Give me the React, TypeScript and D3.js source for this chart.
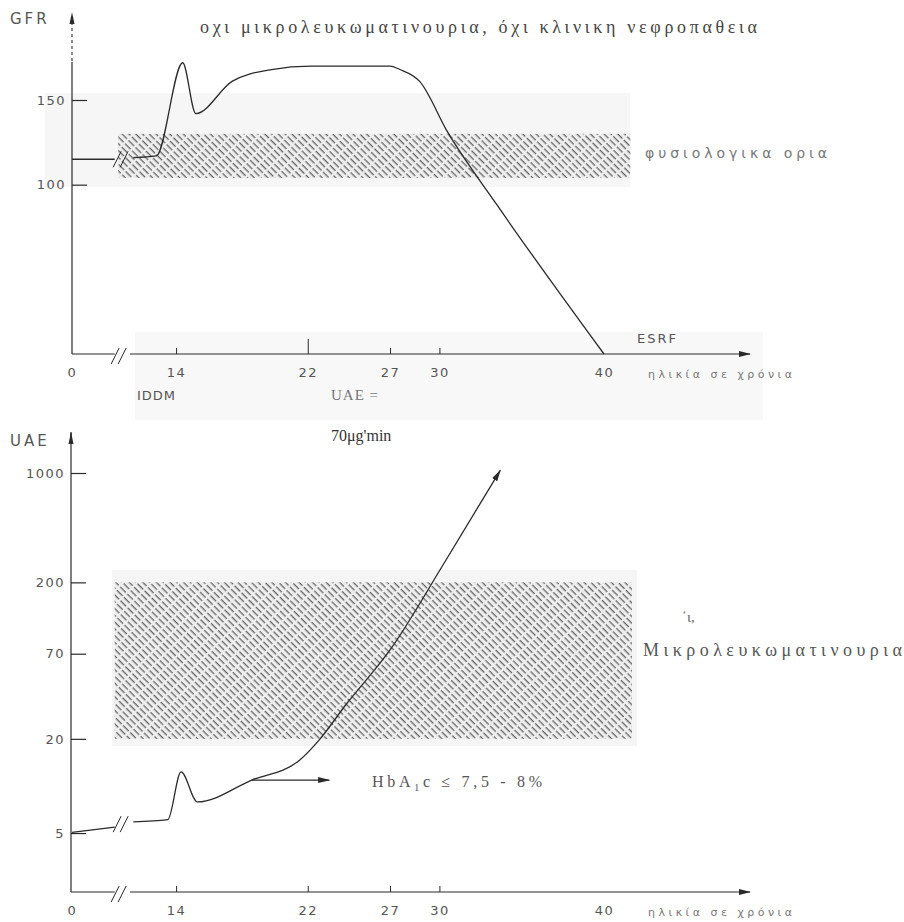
import React, { useEffect, useRef } from 'react';
import * as d3 from 'd3';

// top panel: GFR (ml/min) by age, the part before the axis break and after it
const gfrAgePre = [0, 2.6];
const gfrPre = [115, 115];
const gfrAge = [11.4, 12.8, 14.4, 15.2, 17.4, 19.8, 22.2, 27.0, 27.6, 28.8, 30.5, 33.5, 40];
const gfrVals = [116, 117, 172, 142, 161, 168, 170, 170, 168, 161, 131, 88, 0];
const gfrTicks = [100, 150];
const normalGfr = [104, 130];

// bottom panel: UAE (μg/min), log axis
const uaeAgePre = [0, 2.6];
const uaePre = [5.05, 5.45];
const uaeAge = [11.4, 13.5, 14.3, 15.3, 18.6, 21.5, 22.7, 24.3, 27, 30.4, 33.7];
const uaeVals = [5.9, 6.1, 12.3, 7.9, 10.9, 14.6, 19.7, 32.9, 74, 278, 1040];
const uaeTicks = [5, 20, 70, 200, 1000];
const microRange = [20, 200];

const ageLabels = [0, 14, 22, 27, 30, 40];
const ageTickMarks = [14, 22, 27, 30];
const bandAges = [2.9, 41.6];
const hbaArrow = [18.6, 23.3];
const hbaLevel = 10.9;

const W = 904;
const H = 922;

function App() {
  const ref = useRef<SVGSVGElement>(null);

  useEffect(() => {
    const svg = d3.select(ref.current);
    svg.selectAll('*').remove();
    draw(svg);
  }, []);

  function draw(svg: any) {
    const sans = "'DejaVu Sans', sans-serif";
    const serif = "'Liberation Serif', serif";
    const ink = '#2a2a2a';
    const txt = '#555';

    // piecewise scale gives the broken axis between 0 and the teens
    const x = d3.scaleLinear().domain([0, 2.8, 11.2, 40]).range([72, 118, 130, 604]);
    const yG = d3.scaleLinear().domain([0, 150]).range([354, 100]);
    const yU = d3.scaleLog().domain([2.1, 1000]).range([892, 473]);

    const defs = svg.append('defs');
    const pat = defs.append('pattern')
      .attr('id', 'hatch')
      .attr('patternUnits', 'userSpaceOnUse')
      .attr('width', 4.8).attr('height', 10)
      .attr('patternTransform', 'rotate(-45)');
    pat.append('line')
      .attr('x1', 1.2).attr('y1', 0).attr('x2', 1.2).attr('y2', 8)
      .attr('stroke', '#3c3c3c').attr('stroke-width', 1);
    defs.append('marker')
      .attr('id', 'arr')
      .attr('markerUnits', 'userSpaceOnUse')
      .attr('markerWidth', 12).attr('markerHeight', 8)
      .attr('refX', 11).attr('refY', 4)
      .attr('orient', 'auto')
      .append('path').attr('d', 'M0,1 L12,4 L0,7 Z').attr('fill', ink);

    // faint grey of the scanned page
    svg.append('rect').attr('x', 45).attr('y', 93).attr('width', 585).attr('height', 94).attr('fill', '#f6f6f6');
    svg.append('rect').attr('x', 135).attr('y', 332).attr('width', 628).attr('height', 88).attr('fill', '#f8f8f8');
    svg.append('rect').attr('x', 112).attr('y', 570).attr('width', 525).attr('height', 176).attr('fill', '#f5f5f5');

    // hatched bands
    const band = (y: any, lo: number, hi: number, a0: number, a1: number) => {
      ['#eeeeee', 'url(#hatch)'].forEach(f => {
        svg.append('rect')
          .attr('x', x(a0)).attr('y', y(hi))
          .attr('width', x(a1) - x(a0)).attr('height', y(lo) - y(hi))
          .attr('fill', f);
      });
    };
    band(yG, normalGfr[0], normalGfr[1], bandAges[0], bandAges[1]);
    band(yU, microRange[0], microRange[1], 2.6, 41.7);

    function breakMarks(cx: number, cy: number) {
      [-4, 3].forEach(dx => {
        svg.append('line')
          .attr('x1', cx + dx - 4).attr('y1', cy + 8)
          .attr('x2', cx + dx + 4).attr('y2', cy - 8)
          .attr('stroke', ink).attr('stroke-width', 1);
      });
    }

    function panel(y: any, top: number, base: number, ticks: number[], left: number, dashTop: number) {
      // y axis with small arrow tip, dotted just under it
      svg.append('line').attr('x1', left).attr('x2', left).attr('y1', top + 4).attr('y2', top + dashTop)
        .attr('stroke', ink).attr('stroke-width', 1.1).attr('stroke-dasharray', '3,3');
      svg.append('line').attr('x1', left).attr('x2', left).attr('y1', top + dashTop).attr('y2', base)
        .attr('stroke', ink).attr('stroke-width', 1.2);
      svg.append('path').attr('d', `M${left - 2.5},${top + 12} L${left},${top} L${left + 2.5},${top + 12} Z`).attr('fill', ink);

      const ga = svg.append('g').attr('transform', `translate(${left},0)`)
        .call(d3.axisLeft(y).tickValues(ticks).tickFormat(d3.format('d')).tickSizeInner(-15).tickSizeOuter(0).tickPadding(6));
      ga.select('.domain').remove();
      ga.selectAll('line').attr('stroke', ink).attr('stroke-width', 1.2);
      ga.selectAll('text').attr('font-family', sans).attr('font-size', 13).attr('fill', txt).attr('letter-spacing', 1.5);

      // x axis: two pieces around the break, arrow at the end
      svg.append('line').attr('x1', left).attr('x2', x(2.6)).attr('y1', base).attr('y2', base)
        .attr('stroke', ink).attr('stroke-width', 1.2);
      svg.append('line').attr('x1', x(11.2)).attr('x2', 750).attr('y1', base).attr('y2', base)
        .attr('stroke', ink).attr('stroke-width', 1.2).attr('marker-end', 'url(#arr)');
      breakMarks(x(3.6), base + 2);

      const gx = svg.append('g').attr('transform', `translate(0,${base})`)
        .call(d3.axisBottom(x).tickValues(ageLabels).tickSizeInner(-6).tickSizeOuter(0).tickPadding(14));
      gx.select('.domain').remove();
      gx.selectAll('.tick line')
        .attr('stroke', ink)
        .attr('opacity', (d: number) => (ageTickMarks.includes(d) ? 1 : 0));
      gx.selectAll('text').attr('font-family', sans).attr('font-size', 13).attr('fill', txt).attr('letter-spacing', 1.5);

      svg.append('text').attr('x', 648).attr('y', base + 24)
        .attr('font-family', sans).attr('font-size', 11).attr('fill', '#777')
        .attr('textLength', 144).attr('lengthAdjust', 'spacing')
        .text('ηλικία σε χρόνια');
      return gx;
    }

    const gxTop = panel(yG, 12, 354, gfrTicks, 72, 50);
    gxTop.selectAll('.tick line').filter((d: number) => d === 22).attr('y2', -15);
    panel(yU, 432, 892, uaeTicks, 71, 0);

    // GFR curve
    const line = (yy: any) => d3.line<number[]>().x(d => x(d[0])).y(d => yy(d[1])).curve(d3.curveMonotoneX);
    svg.append('path').attr('d', line(yG)(gfrAgePre.map((a, i) => [a, gfrPre[i]])))
      .attr('fill', 'none').attr('stroke', ink).attr('stroke-width', 1.3);
    svg.append('path').attr('d', line(yG)(gfrAge.map((a, i) => [a, gfrVals[i]])))
      .attr('fill', 'none').attr('stroke', ink).attr('stroke-width', 1.3);
    breakMarks(x(5), yG(115));

    // UAE curve
    svg.append('path').attr('d', line(yU)(uaeAgePre.map((a, i) => [a, uaePre[i]])))
      .attr('fill', 'none').attr('stroke', ink).attr('stroke-width', 1.3);
    svg.append('path').attr('d', line(yU)(uaeAge.map((a, i) => [a, uaeVals[i]])))
      .attr('fill', 'none').attr('stroke', ink).attr('stroke-width', 1.3).attr('marker-end', 'url(#arr)');
    breakMarks(x(5), yU(5.7));

    svg.append('line')
      .attr('x1', x(hbaArrow[0])).attr('x2', x(hbaArrow[1]))
      .attr('y1', yU(hbaLevel)).attr('y2', yU(hbaLevel))
      .attr('stroke', ink).attr('stroke-width', 1.1).attr('marker-end', 'url(#arr)');

    // labels
    svg.append('text').attr('x', 10).attr('y', 24).attr('font-family', sans).attr('font-size', 15)
      .attr('fill', txt).attr('letter-spacing', 3).text('GFR');
    svg.append('text').attr('x', 10).attr('y', 446).attr('font-family', sans).attr('font-size', 15)
      .attr('fill', txt).attr('letter-spacing', 3).text('UAE');

    svg.append('text').attr('x', 200).attr('y', 33).attr('font-family', serif).attr('font-size', 18)
      .attr('fill', '#444').attr('textLength', 557).attr('lengthAdjust', 'spacing')
      .text('οχι μικρολευκωματινουρια, όχι κλινικη νεφροπαθεια');
    svg.append('text').attr('x', 645).attr('y', 158).attr('font-family', sans).attr('font-size', 14)
      .attr('fill', '#777').attr('textLength', 182).attr('lengthAdjust', 'spacing')
      .text('φυσιολογικα ορια');
    svg.append('text').attr('x', 637).attr('y', 343).attr('font-family', sans).attr('font-size', 13)
      .attr('fill', txt).attr('letter-spacing', 2).text('ESRF');
    svg.append('text').attr('x', 137).attr('y', 400).attr('font-family', sans).attr('font-size', 13)
      .attr('fill', txt).attr('letter-spacing', 1).text('IDDM');
    svg.append('text').attr('x', 331).attr('y', 400).attr('font-family', serif).attr('font-size', 15)
      .attr('fill', '#777').attr('letter-spacing', 1).text('UAE =');
    svg.append('text').attr('x', 331).attr('y', 441).attr('font-family', serif).attr('font-size', 16)
      .attr('fill', '#333').text('70μg\'min');

    const hb = svg.append('text').attr('x', 372).attr('y', 787).attr('font-family', serif).attr('font-size', 16)
      .attr('fill', '#555').attr('textLength', 170).attr('lengthAdjust', 'spacing');
    hb.append('tspan').text('HbA');
    hb.append('tspan').attr('font-size', 10).attr('dy', 4).text('1');
    hb.append('tspan').attr('dy', -4).text('c ≤ 7,5 - 8%');

    svg.append('text').attr('x', 682).attr('y', 622).attr('font-family', serif).attr('font-size', 15)
      .attr('fill', '#666').text('΄ι,');
    svg.append('text').attr('x', 643).attr('y', 656).attr('font-family', serif).attr('font-size', 18)
      .attr('fill', '#555').attr('textLength', 259).attr('lengthAdjust', 'spacing')
      .text('Μικρολευκωματινουρια');
  }

  return (
    <svg ref={ref} width={W} height={H}
      style={{ position: 'absolute', left: 0, top: 0, background: '#fff' }} />
  );
}

export default App;
